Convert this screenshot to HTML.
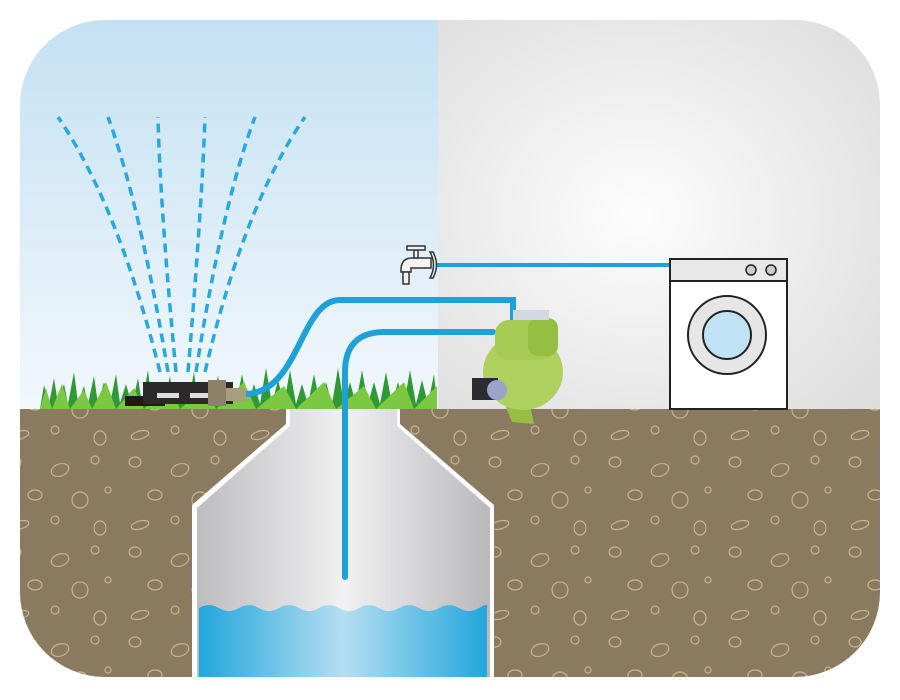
<!DOCTYPE html>
<html><head><meta charset="utf-8"><style>html,body{margin:0;padding:0;background:#fff;width:900px;height:700px;overflow:hidden}</style></head>
<body>
<svg width="900" height="700" viewBox="0 0 900 700" xmlns="http://www.w3.org/2000/svg">
<defs>
<clipPath id="fr"><rect x="20" y="20" width="860" height="657" rx="85" ry="85"/></clipPath>
<linearGradient id="sky" x1="0" y1="0" x2="0" y2="1"><stop offset="0" stop-color="#c4e1f3"/><stop offset="1" stop-color="#f2f8fc"/></linearGradient>
<radialGradient id="wall" cx="0.45" cy="0.5" r="0.75"><stop offset="0" stop-color="#fdfdfd"/><stop offset="1" stop-color="#dcdcdd"/></radialGradient>
<linearGradient id="well" x1="0" y1="0" x2="1" y2="0"><stop offset="0" stop-color="#bdbdc0"/><stop offset="0.5" stop-color="#f1f1f2"/><stop offset="1" stop-color="#b9b9bc"/></linearGradient>
<linearGradient id="wat" x1="0" y1="0" x2="1" y2="0"><stop offset="0" stop-color="#22a7dc"/><stop offset="0.5" stop-color="#b6def2"/><stop offset="1" stop-color="#22a7dc"/></linearGradient>
<pattern id="stones" width="120" height="90" patternUnits="userSpaceOnUse">
<g fill="none" stroke="#c8b48e" stroke-width="1.2">
<ellipse cx="15" cy="12" rx="6" ry="5"/><ellipse cx="60" cy="20" rx="9" ry="6" transform="rotate(-20 60 20)"/><circle cx="95" cy="10" r="4"/>
<ellipse cx="35" cy="45" rx="7" ry="5"/><circle cx="80" cy="50" r="8"/><circle cx="108" cy="40" r="3"/>
<ellipse cx="20" cy="75" rx="9" ry="4" transform="rotate(-15 20 75)"/><circle cx="55" cy="70" r="4"/><ellipse cx="100" cy="78" rx="6" ry="7"/>
</g></pattern>
</defs>
<g clip-path="url(#fr)">
<rect x="20" y="20" width="418" height="390" fill="url(#sky)"/>
<rect x="438" y="20" width="442" height="390" fill="url(#wall)"/>
<rect x="20" y="409" width="860" height="270" fill="#8a7a60"/>
<rect x="20" y="409" width="860" height="270" fill="url(#stones)"/>
<path d="M286 409 H400 V424 L494 505 V680 H192 V505 L286 424 Z" fill="#fff"/>
<path d="M290 409 H397 V426 L490 508 V680 H197 V508 L290 426 Z" fill="url(#well)"/>
<path d="M199 608 q10 -6 20 0 t20 0 t20 0 t20 0 t20 0 t20 0 t20 0 t20 0 t20 0 t20 0 t20 0 t20 0 t20 0 t20 0 t8 0 V680 H199 Z" fill="url(#wat)"/>
</g>
<g fill="none" stroke="#29a8e0" stroke-width="3.5" stroke-dasharray="9 6">
<path d="M160 372 Q118 205 58 117"/>
<path d="M168 372 Q140 205 108 117"/>
<path d="M176 372 Q160 205 158 117"/>
<path d="M188 372 Q202 205 205 117"/>
<path d="M196 372 Q222 205 255 117"/>
<path d="M205 372 Q244 205 305 117"/>
</g>
<path d="M40 409 L44 385 L49 404 L54 378 L58 404 L64 384 L68 404 L74 372 L78 403 L84 386 L88 404 L94 376 L98 404 L104 382 L110 404 L116 374 L120 403 L126 384 L132 405 L138 378 L142 404 L148 370 L152 404 L158 384 L164 404 L170 376 L174 404 L182 382 L188 404 L194 372 L198 404 L206 384 L212 404 L218 376 L224 404 L230 382 L236 404 L242 374 L248 404 L254 384 L260 404 L266 368 L272 404 L278 380 L284 404 L290 370 L296 404 L302 384 L308 404 L314 374 L320 404 L326 382 L332 404 L338 368 L344 404 L350 382 L356 404 L362 370 L368 404 L374 382 L380 404 L386 372 L392 404 L398 382 L404 404 L410 370 L416 404 L422 380 L428 404 L434 374 L437 404 L437 409 Z" fill="#2f9a35"/>
<path d="M40 409 L46 388 L52 409 L62 384 L70 409 L84 390 L92 409 L106 382 L116 409 L134 388 L144 409 L170 384 L180 409 L204 388 L216 409 L244 382 L256 409 L284 386 L296 409 L324 382 L336 409 L364 386 L376 409 L404 382 L414 409 L437 386 V409 Z" fill="#7cc843"/>
<rect x="125" y="396" width="40" height="10" fill="#1f1a16"/>
<rect x="143" y="382" width="90" height="22" fill="#2b2a28"/>
<rect x="157" y="393" width="22" height="5" fill="#ddd"/>
<rect x="190" y="393" width="22" height="5" fill="#ddd"/>
<rect x="208" y="380" width="18" height="26" fill="#8c8268"/>
<rect x="226" y="388" width="20" height="13" fill="#a89e7e"/>
<g fill="none" stroke="#1ea0d9" stroke-width="6">
<path d="M246 394 C300 392 300 300 340 300 H513 V320"/>
<path d="M493 332 H385 Q345 332 345 372 V577" stroke-linecap="round"/>
<path d="M437 265 H670" stroke-width="4"/>
</g>
<g fill="#f3f3f3" stroke="#333" stroke-width="1.5">
<path d="M430 252 Q437 265 430 278 L433 278 Q440 265 433 252 Z"/>
<path d="M431 258 H412 Q401 258 401 270 V272 H411 V268 H431 Z"/>
<rect x="403" y="272" width="6" height="12"/>
<rect x="414" y="250" width="4" height="8"/>
<rect x="407" y="246" width="18" height="4"/>
</g>
<g>
<path d="M505 405 L530 405 L534 424 L512 422 Z" fill="#94bf43"/>
<ellipse cx="523" cy="372" rx="40" ry="38" fill="#aed05e"/>
<rect x="495" y="320" width="60" height="40" rx="14" fill="#a6cc55"/>
<rect x="528" y="318" width="30" height="38" rx="10" fill="#94bf43"/>
<rect x="513" y="310" width="36" height="10" fill="#d0d8e0"/>
<rect x="472" y="378" width="26" height="22" fill="#2b2b30"/>
<circle cx="497" cy="390" r="10" fill="#9aa4c8"/>
</g>
<rect x="670" y="259" width="117" height="150" fill="#fff" stroke="#222" stroke-width="2"/>
<rect x="671" y="260" width="115" height="21" fill="#e8e8e8"/>
<line x1="670" y1="281" x2="787" y2="281" stroke="#222" stroke-width="2"/>
<circle cx="751" cy="270" r="5" fill="#ccc" stroke="#222" stroke-width="1.5"/>
<circle cx="771" cy="270" r="5" fill="#ccc" stroke="#222" stroke-width="1.5"/>
<circle cx="727" cy="335" r="39" fill="#e6e6e6" stroke="#222" stroke-width="2"/>
<circle cx="727" cy="335" r="24" fill="#bfe3f5" stroke="#222" stroke-width="2"/>
</svg>
</body></html>
